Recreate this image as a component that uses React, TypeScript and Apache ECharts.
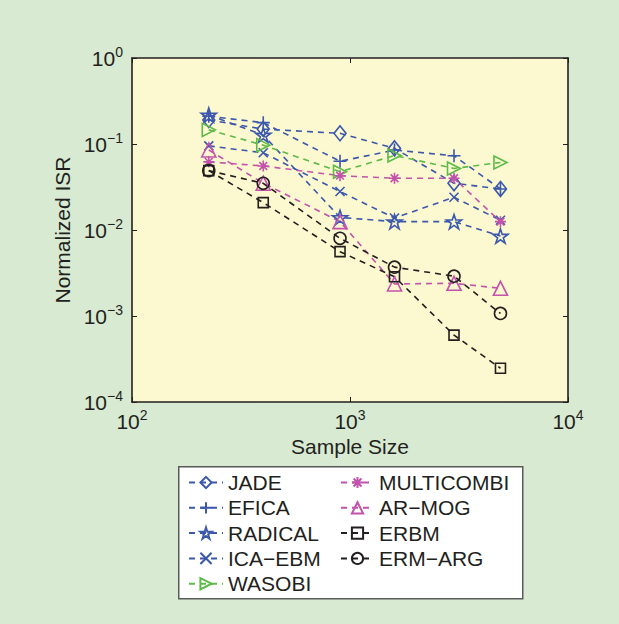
import React, { useEffect, useRef } from "react";
import * as echarts from "echarts";

const sampleSizes = [225, 400, 900, 1600, 3000, 4900];

const jade = [0.19, 0.149, 0.133, 0.089, 0.035, 0.03];
const efica = [0.21, 0.177, 0.063, 0.085, 0.073, 0.03];
const radical = [0.217, 0.127, 0.014, 0.0125, 0.0125, 0.0085];
const icaEbm = [0.095, 0.079, 0.028, 0.0138, 0.024, 0.013];
const wasobi = [0.146, 0.097, 0.0476, 0.0735, 0.052, 0.061];
const multicombi = [0.062, 0.0555, 0.0428, 0.04, 0.04, 0.0125];
const arMog = [0.0852, 0.035, 0.0125, 0.00236, 0.0024, 0.0021];
const erbm = [0.049, 0.0208, 0.0056, 0.00286, 0.0006, 0.000247];
const ermArg = [0.049, 0.0349, 0.008, 0.0037, 0.0029, 0.00107];

const seriesNames = ["JADE", "EFICA", "RADICAL", "ICA\u2212EBM", "WASOBI", "MULTICOMBI", "AR\u2212MOG", "ERBM", "ERM\u2212ARG"];
const xTickExps: Record<string, string> = { "100": "2", "1000": "3", "10000": "4" };
const yTickExps: Record<string, string> = { "0.0001": "\u22124", "0.001": "\u22123", "0.01": "\u22122", "0.1": "\u22121", "1": "0" };

const BLUE = "#3b58ad";
const GREEN = "#5cba47";
const MAGENTA = "#c352ac";
const BLACK = "#231f20";
const FONT = "'Liberation Sans', Arial, Helvetica, sans-serif";

function starPath(): string {
  let d = "";
  for (let k = 0; k < 10; k++) {
    const r = k % 2 ? 0.38 : 1;
    const a = ((-90 + k * 36) * Math.PI) / 180;
    const x = 50 + 50 * r * Math.cos(a);
    const y = 50 + 50 * r * Math.sin(a);
    d += (k ? "L" : "M") + x.toFixed(2) + "," + y.toFixed(2);
  }
  return "path://" + d + "Z";
}

const SYM_PLUS = "path://M5,0L5,10M0,5L10,5";
const SYM_X = "path://M0,0L10,10M10,0L0,10";
const SYM_AST = "path://M5,0L5,10M0,5L10,5M1.5,1.5L8.5,8.5M8.5,1.5L1.5,8.5";
const SYM_TRI_R = "path://M0,0L10,5L0,10Z";

export default function App() {
  const ref = useRef<HTMLDivElement>(null);
  useEffect(() => {
    document.body.style.margin = "0";
    if (!ref.current) return;
    const chart = echarts.init(ref.current, undefined, { renderer: "svg" });

    const mk = (name: string, vals: number[], color: string, symbol: string, size: any) => ({
      name,
      type: "line",
      data: sampleSizes.map((x, i) => [x, vals[i]]),
      symbol,
      symbolSize: size,
      symbolKeepAspect: true,
      showSymbol: true,
      lineStyle: { color, width: 1.6, type: [6, 5] },
      itemStyle: { color: "none", borderColor: color, borderWidth: 1.6 },
      emphasis: { disabled: true },
    });

    const series = [
      mk(seriesNames[0], jade, BLUE, "diamond", [12, 15]),
      mk(seriesNames[1], efica, BLUE, SYM_PLUS, 13),
      mk(seriesNames[2], radical, BLUE, starPath(), 15),
      mk(seriesNames[3], icaEbm, BLUE, SYM_X, 9),
      mk(seriesNames[4], wasobi, GREEN, SYM_TRI_R, 13),
      mk(seriesNames[5], multicombi, MAGENTA, SYM_AST, 11),
      mk(seriesNames[6], arMog, MAGENTA, "triangle", 14),
      mk(seriesNames[7], erbm, BLACK, "rect", 10),
      mk(seriesNames[8], ermArg, BLACK, "circle", 12),
    ];

    const rich = {
      b: { fontSize: 21, fontFamily: FONT, color: BLACK },
      e: { fontSize: 14, fontFamily: FONT, color: BLACK, verticalAlign: "top", padding: [0, 0, 12, 0] },
    };

    const legendText = { fontSize: 21, fontFamily: FONT, color: BLACK, lineHeight: 20 };

    chart.setOption({
      animation: false,
      backgroundColor: "#d8ead2",
      textStyle: { fontFamily: FONT },
      grid: { left: 132, top: 58, right: 51, bottom: 222, show: true, backgroundColor: "#fcf8cf", borderWidth: 0 },
      xAxis: [
        {
          type: "log",
          logBase: 10,
          min: 100,
          max: 10000,
          name: "Sample Size",
          nameLocation: "middle",
          nameGap: 34,
          nameTextStyle: { fontSize: 21, fontFamily: FONT, color: BLACK },
          axisLine: { lineStyle: { color: BLACK, width: 1.6 } },
          axisTick: { inside: true, length: 5, lineStyle: { color: BLACK, width: 1 } },
          axisLabel: {
            margin: 6,
            formatter: (v: number) => `{b|10}{e|${xTickExps[String(Math.round(v))] ?? ""}}`,
            rich,
          },
          splitLine: { show: false },
          minorTick: { show: false },
        },
        {
          type: "log",
          logBase: 10,
          min: 100,
          max: 10000,
          position: "top",
          axisLine: { lineStyle: { color: BLACK, width: 1.6 } },
          axisTick: { inside: true, length: 5, lineStyle: { color: BLACK, width: 1 } },
          axisLabel: { show: false },
          splitLine: { show: false },
        },
      ],
      yAxis: [
        {
          type: "log",
          logBase: 10,
          min: 0.0001,
          max: 1,
          name: "Normalized ISR",
          nameLocation: "middle",
          nameGap: 50,
          nameTextStyle: { fontSize: 21, fontFamily: FONT, color: BLACK },
          axisLine: { show: true, lineStyle: { color: BLACK, width: 1.6 } },
          axisTick: { show: true, inside: true, length: 5, lineStyle: { color: BLACK, width: 1 } },
          axisLabel: {
            margin: 9,
            formatter: (v: number) => {
              const key = String(Number(v.toPrecision(3)));
              return `{b|10}{e|${yTickExps[key] ?? ""}}`;
            },
            rich,
          },
          splitLine: { show: false },
          minorTick: { show: false },
        },
        {
          type: "log",
          logBase: 10,
          min: 0.0001,
          max: 1,
          position: "right",
          axisLine: { show: true, lineStyle: { color: BLACK, width: 1.6 } },
          axisTick: { show: true, inside: true, length: 5, lineStyle: { color: BLACK, width: 1 } },
          axisLabel: { show: false },
          splitLine: { show: false },
        },
      ],
      legend: [
        {
          data: seriesNames.slice(0, 5),
          orient: "vertical",
          left: 188,
          top: 472,
          padding: 0,
          itemWidth: 34,
          itemHeight: 14,
          itemGap: 4.3,
          textStyle: legendText,
          selectedMode: false,
        },
        {
          data: seriesNames.slice(5),
          orient: "vertical",
          left: 340,
          top: 472,
          padding: 0,
          itemWidth: 33,
          itemHeight: 14,
          itemGap: 4.3,
          textStyle: legendText,
          selectedMode: false,
        },
      ],
      graphic: [
        {
          type: "rect",
          left: 178,
          top: 466,
          z: 0,
          shape: { width: 344, height: 132 },
          style: { fill: "#ffffff", stroke: "#5a5a5a", lineWidth: 1.5 },
        },
      ],
      series,
    });
    return () => chart.dispose();
  }, []);
  return <div ref={ref} style={{ width: 619, height: 624 }} />;
}
